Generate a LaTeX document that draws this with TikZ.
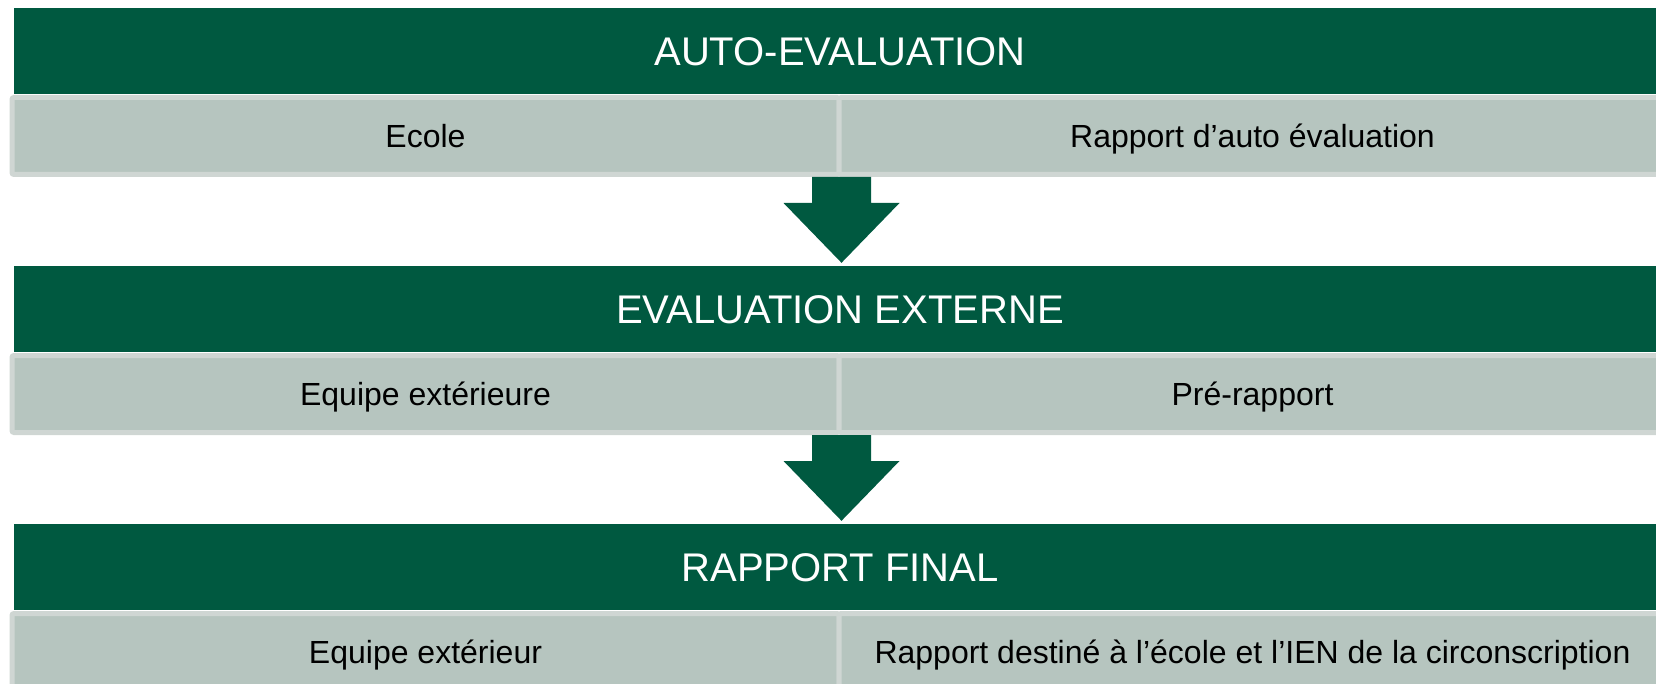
\documentclass[tikz,border=0pt]{standalone}
\usepackage{fontspec}
\setmainfont{Liberation Sans}
\usetikzlibrary{calc}
\definecolor{dgreen}{RGB}{0,89,64}
\definecolor{cellgray}{RGB}{182,197,191}
\definecolor{cellborder}{RGB}{207,214,211}
\tikzset{
  header/.style={fill=dgreen, draw=none, minimum width=1651.5pt, minimum height=86pt,
    inner sep=0pt, text=white, font=\fontsize{40}{42}\selectfont,
    text height=28.6pt, text depth=0pt},
  cell/.style={fill=cellgray, draw=cellborder, line width=5pt, rounded corners=2pt,
    minimum width=827pt, minimum height=77pt, inner sep=0pt, text=black,
    font=\fontsize{32}{34}\selectfont, text height=22.9pt, text depth=0pt},
  bigarrow/.style={fill=dgreen, draw=none}
}
\newcommand\flowarrow[2]{%
  \fill[bigarrow] ($(#1)+(-29.5,0)$) -- ($(#1)+(29.5,0)$) -- ($(#1)+(29.5,26)$)
    -- ($(#1)+(58,26)$) -- ($(#1 |- #2)+(0,-3)$) -- ($(#1)+(-58,26)$)
    -- ($(#1)+(-29.5,26)$) -- cycle;}
\begin{document}
\begin{tikzpicture}[x=1pt,y=-1pt]
\useasboundingbox (0,0) rectangle (1656,684);
\begin{scope}
\clip (0,0) rectangle (1656,684);
% row 1
\node[header] (h1) at (840,51) {AUTO-EVALUATION};
\node[cell] (c1l) at (425.5,136) {Ecole};
\node[cell] (c1r) at (1252.5,136) {Rapport d’auto évaluation};
% row 2
\node[header] (h2) at (840,309) {EVALUATION EXTERNE};
\node[cell] (c2l) at (425.5,394) {Equipe extérieure};
\node[cell] (c2r) at (1252.5,394) {Pré-rapport};
% row 3
\node[header] (h3) at (840,567) {RAPPORT FINAL};
\node[cell] (c3l) at (425.5,652) {Equipe extérieur};
\node[cell] (c3r) at (1252.5,652) {Rapport destiné à l’école et l’IEN de la circonscription};
% arrows
\flowarrow{c1l.south east}{h2.north}
\flowarrow{c2l.south east}{h3.north}
\end{scope}
\end{tikzpicture}
\end{document}
